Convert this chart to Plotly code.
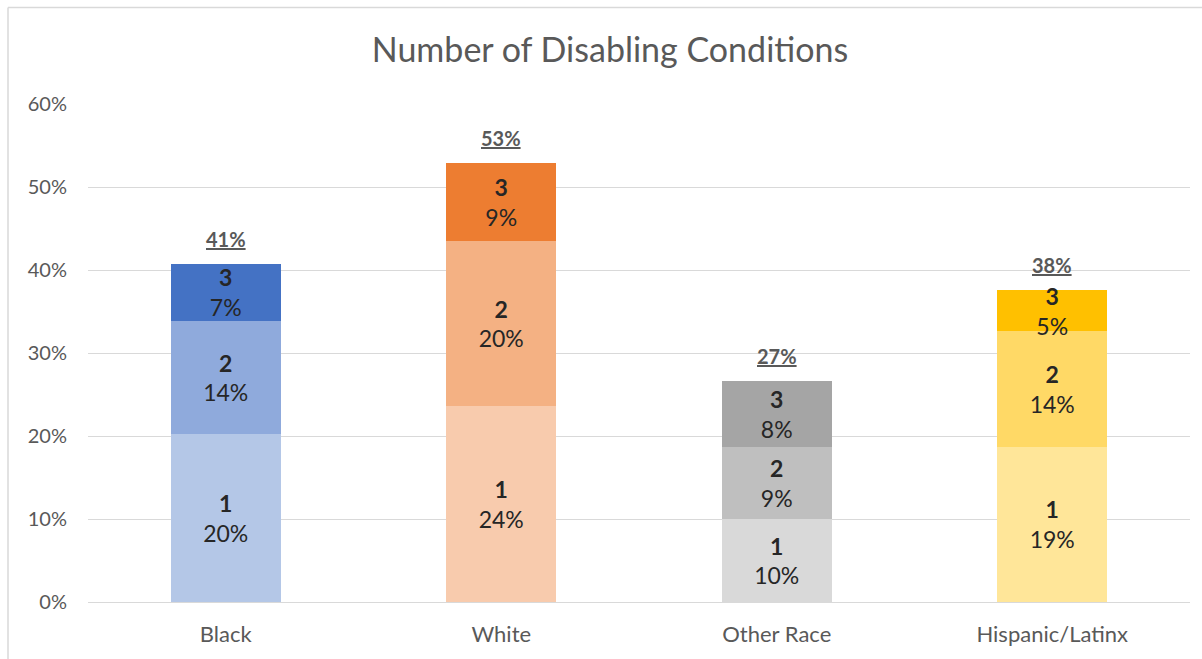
import plotly.graph_objects as go

categories = ["Black", "White", "Other Race", "Hispanic/Latinx"]
level_names = ["1", "2", "3"]
level1 = [0.202, 0.236, 0.100, 0.187]
level2 = [0.137, 0.199, 0.087, 0.139]
level3 = [0.068, 0.094, 0.079, 0.050]
levels = [level1, level2, level3]
totals = [a + b + c for a, b, c in zip(level1, level2, level3)]

colors = [
    ["#b4c7e7", "#f8cbad", "#d9d9d9", "#ffe699"],
    ["#8faadc", "#f4b183", "#bfbfbf", "#ffd966"],
    ["#4472c4", "#ed7d31", "#a5a5a5", "#ffc000"],
]
y_ticks = [0, 0.1, 0.2, 0.3, 0.4, 0.5, 0.6]
y_ticktext = ["0%", "10%", "20%", "30%", "40%", "50%", "60%"]

FONT = "Lato"
fig = go.Figure()
for name, vals, cols in zip(level_names, levels, colors):
    fig.add_trace(go.Bar(
        x=categories, y=vals, name=name,
        marker=dict(color=cols, line=dict(width=0)),
        text=[f"<b>{name}</b><br>{round(v*100):.0f}%" for v in vals],
        textposition="inside", insidetextanchor="middle", textangle=0,
        textfont=dict(family=FONT, size=23, color="#262626"),
        hoverinfo="skip",
    ))

for cat, t in zip(categories, totals):
    fig.add_annotation(
        x=cat, y=t, xref="x", yref="y",
        text=f"<b><u>{round(t*100):.0f}%</u></b>",
        showarrow=False, yanchor="bottom", yshift=11,
        font=dict(family=FONT, size=20, color="#595959"),
    )

fig.update_layout(
    width=1202, height=659,
    barmode="stack", bargap=0.6,
    showlegend=False,
    paper_bgcolor="white", plot_bgcolor="white",
    margin=dict(l=88, r=12, t=104, b=55),
    uniformtext=dict(minsize=23, mode="show"),
    title=dict(text="Number of Disabling Conditions", x=610/1202, xanchor="center",
               y=1 - 50/659, yanchor="middle",
               font=dict(family=FONT, size=34, color="#595959")),
    font=dict(family=FONT, color="#595959"),
)
fig.update_yaxes(range=[0, 0.6], tickvals=y_ticks, ticktext=y_ticktext,
                 showgrid=True, gridcolor="#d9d9d9", gridwidth=1.3,
                 zeroline=False, showline=False,
                 tickfont=dict(family=FONT, size=20, color="#595959"),
                 ticklabelstandoff=20)
fig.update_xaxes(showline=True, linecolor="#d9d9d9", linewidth=1.3,
                 tickfont=dict(family=FONT, size=22, color="#595959"),
                 ticklabelstandoff=12)

# chart-area border (left and top edges visible in the reference)
fig.add_shape(type="line", xref="paper", yref="paper",
              x0=-80/1102, x1=1.02, y0=1 + 97/500, y1=1 + 97/500,
              line=dict(color="#d9d9d9", width=1.5))
fig.add_shape(type="line", xref="paper", yref="paper",
              x0=-80/1102, x1=-80/1102, y0=1 + 97/500, y1=-0.12,
              line=dict(color="#d9d9d9", width=1.5))

fig.write_html("out.html", config={"displayModeBar": False},
               post_script="document.body.style.margin='0';")
